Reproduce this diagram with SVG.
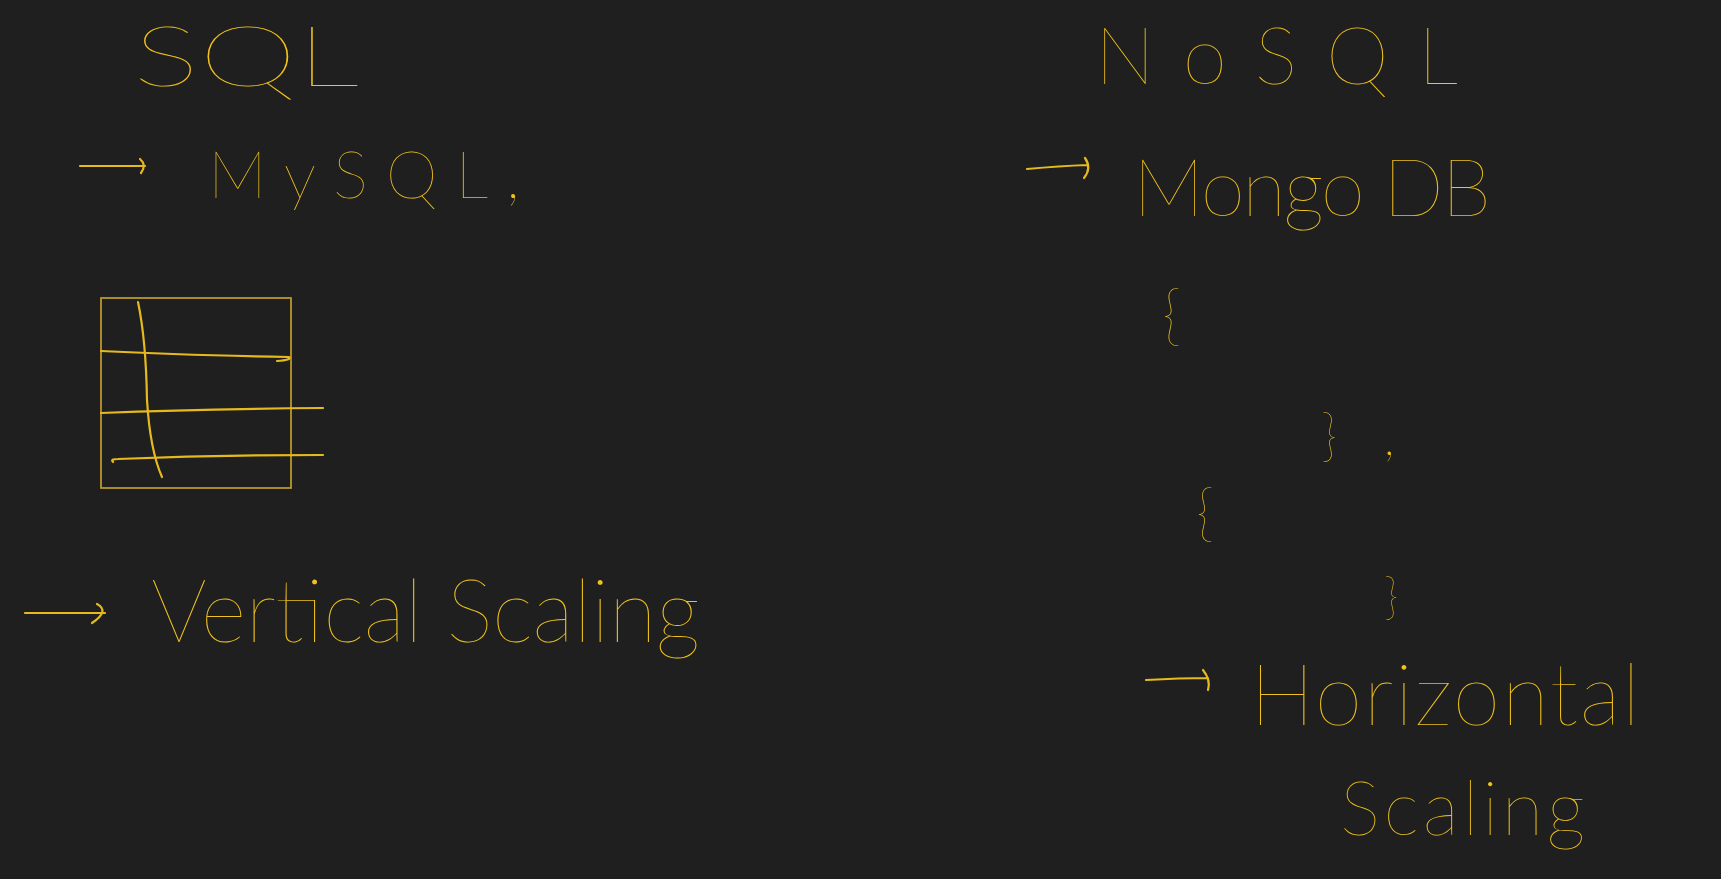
<svg xmlns="http://www.w3.org/2000/svg" width="1721" height="879" viewBox="0 0 1721 879">
<style>
.t{font-family:Lato,"Liberation Sans",sans-serif;font-weight:200;fill:#f0c21e}
.ink{fill:none;stroke:#e6ba1e;stroke-width:2.2;stroke-linecap:round;stroke-linejoin:round}
.box{fill:none;stroke:#b8982a;stroke-width:1.8}
</style>
<rect width="1721" height="879" fill="#1f1f1f"/>
<g id="sql-title"><text class="t" x="133" y="86" font-size="84" textLength="226" lengthAdjust="spacingAndGlyphs">SQL</text></g>
<g id="mysql"><text class="t" x="208" y="198" font-size="66" textLength="312" lengthAdjust="spacing">MySQL,</text></g>
<g id="table">
<rect class="box" x="101" y="298" width="190" height="190"/>
<path class="ink" d="M101 351 Q180 355 289 357 Q292 360 277 361"/>
<path class="ink" d="M101 413 Q200 409 323 408"/>
<path class="ink" d="M113 462 Q110 459 118 459 Q220 455 323 455"/>
<path class="ink" d="M138 302 Q146 340 147 400 Q150 450 162 477" stroke-width="1.6"/>
</g>
<g id="vertical-scaling"><text class="t" x="151" y="642" font-size="88" textLength="549" lengthAdjust="spacing">Vertical Scaling</text></g>
<g id="nosql-title"><text class="t" x="1095" y="84" font-size="80" textLength="363" lengthAdjust="spacing">NoSQL</text></g>
<g id="mongodb"><text class="t" x="1133" y="216" font-size="80" textLength="358" lengthAdjust="spacing">Mongo DB</text></g>
<g id="doc1-open"><text class="t" x="1162" y="338" font-size="66">{</text></g>
<g id="doc1-close"><text class="t" x="1321" y="455" font-size="56" textLength="74" lengthAdjust="spacing">},</text></g>
<g id="doc2-open"><text class="t" x="1196" y="534" font-size="62">{</text></g>
<g id="doc2-close"><text class="t" x="1384" y="614" font-size="50">}</text></g>
<g id="horizontal-scaling">
<text class="t" x="1250" y="725" font-size="86" textLength="390" lengthAdjust="spacing">Horizontal</text>
<text class="t" x="1340" y="835" font-size="76" textLength="245" lengthAdjust="spacing">Scaling</text>
</g>
<g id="connectors">
<path class="ink" d="M80 166 L145 166 M140 159 Q147 165 141 173"/>
<path class="ink" d="M25 613 L105 613 M97 604 Q110 611 92 623"/>
<path class="ink" d="M1027 169 Q1060 166 1087 165 M1085 158 Q1092 168 1084 178"/>
<path class="ink" d="M1146 680 Q1180 678 1208 678 M1203 670 Q1211 680 1208 690"/>
</g>
</svg>
